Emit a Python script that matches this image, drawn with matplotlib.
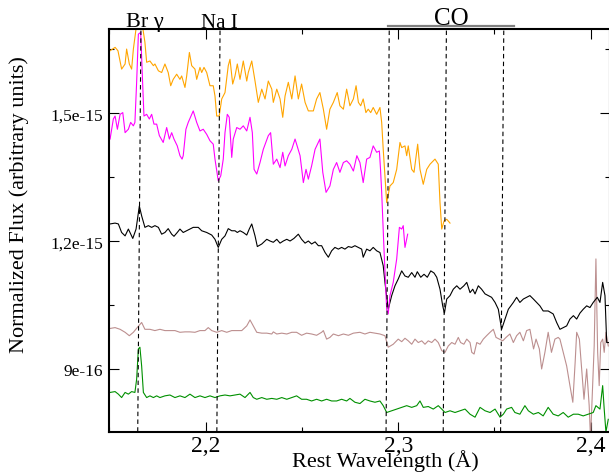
import matplotlib
matplotlib.use("Agg")
import matplotlib.pyplot as plt
import matplotlib.transforms as mtransforms
from matplotlib.ticker import FixedLocator

plt.rcParams['font.family'] = ['Liberation Serif', 'DejaVu Serif']

UNIT = 1e-16  # flux lists are in units of 1e-16

# ---- spectra (wavelength, flux/1e-16) ----
orange_wl = [2.1503, 2.1529, 2.1544, 2.1563, 2.1581, 2.1589, 2.1603, 2.1615, 2.1624, 2.1641,
             2.1653, 2.1666, 2.1684, 2.1693, 2.1710, 2.1728, 2.1736, 2.1754, 2.1771, 2.1788,
             2.1805, 2.1818, 2.1831, 2.1849, 2.1866, 2.1875, 2.1892, 2.1901, 2.1915, 2.1927,
             2.1944, 2.1953, 2.1970, 2.1979, 2.1991, 2.2005, 2.2022, 2.2039, 2.2048, 2.2057,
             2.2070, 2.2083, 2.2100, 2.2117, 2.2126, 2.2140, 2.2152, 2.2164, 2.2178, 2.2195,
             2.2213, 2.2221, 2.2239, 2.2256, 2.2273, 2.2291, 2.2308, 2.2325, 2.2343, 2.2351,
             2.2369, 2.2386, 2.2400, 2.2412, 2.2429, 2.2447, 2.2464, 2.2481, 2.2498, 2.2516,
             2.2533, 2.2559, 2.2576, 2.2593, 2.2611, 2.2628, 2.2645, 2.2663, 2.2683, 2.2697,
             2.2715, 2.2732, 2.2749, 2.2767, 2.2781, 2.2793, 2.2805, 2.2818, 2.2832, 2.2844,
             2.2857, 2.2870, 2.2888, 2.2905, 2.2914, 2.2922, 2.2940, 2.2957, 2.2974, 2.2992,
             2.3009, 2.3018, 2.3035, 2.3044, 2.3052, 2.3070, 2.3082, 2.3101, 2.3113, 2.3130,
             2.3148, 2.3165, 2.3191, 2.3208, 2.3217, 2.3226, 2.3238, 2.3252, 2.3269]
orange_fx = [16.47, 16.55, 16.47, 16.04, 16.16, 16.51, 16.16, 16.04, 16.51, 17.09,
             17.56, 17.21, 16.67, 16.20, 16.23, 16.12, 16.16, 16.00, 15.96, 16.16,
             15.96, 15.65, 15.80, 15.92, 15.80, 15.88, 15.61, 15.88, 16.43, 16.12,
             16.04, 15.80, 16.08, 15.96, 16.08, 15.96, 15.65, 15.65, 15.41, 14.94,
             14.94, 15.34, 15.49, 16.12, 16.27, 15.69, 15.88, 16.16, 15.80, 16.23,
             15.76, 15.96, 16.23, 15.76, 15.26, 15.57, 15.34, 15.76, 15.57, 15.26,
             15.57, 15.34, 14.91, 15.41, 15.73, 15.34, 15.88, 15.34, 15.69, 15.26,
             15.06, 15.06, 15.34, 15.49, 15.10, 14.63, 15.10, 15.26, 15.49, 15.18,
             15.10, 15.57, 15.18, 15.34, 15.65, 15.26, 15.18, 15.34, 15.02, 15.10,
             15.02, 15.14, 14.98, 15.14, 14.79, 14.16, 12.91, 13.30, 13.38, 13.69,
             14.32, 14.20, 14.24, 14.01, 14.24, 13.69, 13.62, 14.28, 13.69, 13.34,
             13.69, 13.81, 13.93, 13.81, 12.91, 12.29, 12.48, 12.52, 12.43]

magenta_wl = [2.1503, 2.1520, 2.1529, 2.1541, 2.1555, 2.1569, 2.1581, 2.1598, 2.1610, 2.1624,
              2.1632, 2.1641, 2.1650, 2.1662, 2.1672, 2.1679, 2.1693, 2.1707, 2.1719, 2.1731,
              2.1745, 2.1759, 2.1779, 2.1797, 2.1811, 2.1823, 2.1835, 2.1852, 2.1866, 2.1877,
              2.1883, 2.1897, 2.1909, 2.1935, 2.1953, 2.1970, 2.1987, 2.2005, 2.2022, 2.2039,
              2.2048, 2.2065, 2.2078, 2.2091, 2.2100, 2.2112, 2.2122, 2.2135, 2.2143, 2.2161,
              2.2178, 2.2195, 2.2213, 2.2230, 2.2242, 2.2251, 2.2265, 2.2282, 2.2299, 2.2325,
              2.2337, 2.2351, 2.2369, 2.2386, 2.2400, 2.2412, 2.2429, 2.2447, 2.2464, 2.2490,
              2.2507, 2.2521, 2.2533, 2.2550, 2.2568, 2.2593, 2.2608, 2.2625, 2.2645, 2.2663,
              2.2680, 2.2697, 2.2715, 2.2732, 2.2749, 2.2767, 2.2785, 2.2801, 2.2818, 2.2836,
              2.2853, 2.2870, 2.2888, 2.2902, 2.2908, 2.2914, 2.2926, 2.2940, 2.2948, 2.2957,
              2.2974, 2.2992, 2.3006, 2.3018, 2.3026, 2.3035, 2.3049]
magenta_fx = [14.40, 14.87, 14.94, 14.63, 14.98, 15.02, 14.55, 14.63, 14.79, 14.71,
              14.79, 15.73, 16.86, 16.90, 15.73, 14.94, 14.98, 14.87, 14.98, 14.75,
              14.75, 14.48, 14.32, 14.67, 14.40, 14.55, 14.40, 14.24, 14.01, 13.93,
              14.01, 14.63, 14.79, 15.06, 14.79, 14.59, 14.63, 14.51, 14.36, 14.28,
              13.93, 13.42, 13.54, 13.93, 14.55, 14.98, 14.91, 13.97, 14.40, 14.67,
              14.63, 14.71, 14.59, 14.91, 14.55, 13.69, 13.58, 13.85, 14.16, 14.48,
              14.55, 13.81, 13.93, 13.73, 14.09, 13.77, 14.01, 14.16, 14.40, 14.01,
              13.38, 13.69, 13.46, 13.77, 14.16, 14.40, 13.62, 13.15, 13.30, 13.69,
              13.85, 13.62, 13.85, 13.89, 13.81, 13.65, 14.01, 13.85, 13.38, 13.93,
              13.97, 14.24, 14.09, 14.12, 13.69, 13.15, 11.82, 10.41, 10.30, 10.73,
              11.04, 11.59, 12.33, 12.29, 12.37, 11.86, 12.17]

black_wl = [2.1503, 2.1529, 2.1546, 2.1563, 2.1581, 2.1598, 2.1621, 2.1638, 2.1655, 2.1667,
            2.1684, 2.1702, 2.1719, 2.1736, 2.1754, 2.1771, 2.1788, 2.1805, 2.1823, 2.1835,
            2.1852, 2.1866, 2.1883, 2.1909, 2.1935, 2.1961, 2.1979, 2.2005, 2.2031, 2.2048,
            2.2065, 2.2083, 2.2100, 2.2117, 2.2135, 2.2152, 2.2164, 2.2178, 2.2195, 2.2213,
            2.2226, 2.2239, 2.2256, 2.2268, 2.2291, 2.2317, 2.2334, 2.2351, 2.2369, 2.2386,
            2.2403, 2.2421, 2.2438, 2.2458, 2.2481, 2.2498, 2.2516, 2.2533, 2.2550, 2.2568,
            2.2585, 2.2602, 2.2620, 2.2637, 2.2654, 2.2671, 2.2689, 2.2706, 2.2723, 2.2741,
            2.2758, 2.2775, 2.2793, 2.2810, 2.2818, 2.2836, 2.2853, 2.2870, 2.2888, 2.2905,
            2.2922, 2.2931, 2.2948, 2.2966, 2.2983, 2.3000, 2.3018, 2.3035, 2.3052, 2.3070,
            2.3087, 2.3099, 2.3117, 2.3134, 2.3151, 2.3169, 2.3186, 2.3200, 2.3217, 2.3231,
            2.3240, 2.3252, 2.3269, 2.3286, 2.3304, 2.3321, 2.3341, 2.3356, 2.3373, 2.3387,
            2.3399, 2.3416, 2.3433, 2.3451, 2.3468, 2.3485, 2.3503, 2.3520, 2.3537, 2.3555,
            2.3572, 2.3598, 2.3615, 2.3632, 2.3650, 2.3667, 2.3684, 2.3702, 2.3719, 2.3736,
            2.3753, 2.3779, 2.3805, 2.3823, 2.3840, 2.3857, 2.3875, 2.3892, 2.3910, 2.3927,
            2.3944, 2.3961, 2.3979, 2.3996, 2.4013, 2.4034, 2.4048, 2.4062, 2.4074, 2.4083,
            2.4098]
black_fx = [12.41, 12.43, 12.41, 12.21, 12.13, 12.29, 12.07, 12.29, 12.83, 12.60,
            12.33, 12.37, 12.33, 12.37, 12.33, 12.17, 12.21, 12.30, 12.17, 12.12,
            12.21, 12.29, 12.21, 12.27, 12.33, 12.33, 12.25, 12.21, 12.15, 12.05,
            11.86, 12.05, 12.13, 12.30, 12.25, 12.25, 12.21, 12.25, 12.21, 12.15,
            12.29, 12.41, 12.13, 11.88, 11.94, 12.05, 12.01, 11.98, 12.05, 11.96,
            12.01, 12.05, 12.01, 12.07, 12.17, 12.05, 11.96, 12.01, 11.94, 11.99,
            11.90, 11.90, 11.74, 11.63, 11.78, 11.86, 11.82, 11.86, 11.82, 11.88,
            11.86, 11.90, 11.86, 11.82, 11.63, 11.82, 11.78, 11.86, 11.78, 11.74,
            11.43, 11.04, 10.41, 10.73, 10.96, 11.12, 11.31, 11.19, 11.16, 11.27,
            11.16, 11.29, 11.16, 11.23, 11.16, 11.31, 11.26, 11.16, 10.88, 10.49,
            10.32, 10.65, 10.73, 10.88, 10.96, 10.88, 10.96, 11.04, 10.80, 10.88,
            10.77, 10.96, 10.88, 10.77, 10.73, 10.69, 10.57, 10.41, 9.94, 10.18,
            10.41, 10.57, 10.69, 10.57, 10.65, 10.69, 10.73, 10.65, 10.57, 10.49,
            10.37, 10.37, 10.30, 10.10, 9.94, 9.98, 10.02, 10.18, 10.26, 10.18,
            10.32, 10.41, 10.49, 10.45, 10.57, 10.69, 10.57, 11.04, 10.73, 9.63,
            9.63]

rosy_wl = [2.1503, 2.1529, 2.1555, 2.1581, 2.1603, 2.1624, 2.1644, 2.1667, 2.1684, 2.1710,
           2.1736, 2.1762, 2.1788, 2.1814, 2.1840, 2.1866, 2.1892, 2.1918, 2.1944, 2.1970,
           2.1996, 2.2013, 2.2031, 2.2057, 2.2083, 2.2109, 2.2135, 2.2161, 2.2187, 2.2213,
           2.2230, 2.2247, 2.2265, 2.2291, 2.2317, 2.2343, 2.2351, 2.2369, 2.2395, 2.2421,
           2.2447, 2.2472, 2.2498, 2.2524, 2.2550, 2.2576, 2.2602, 2.2611, 2.2628, 2.2645,
           2.2663, 2.2689, 2.2715, 2.2741, 2.2767, 2.2801, 2.2827, 2.2853, 2.2879, 2.2905,
           2.2931, 2.2948, 2.2974, 2.3000, 2.3018, 2.3035, 2.3052, 2.3070, 2.3087, 2.3104,
           2.3122, 2.3139, 2.3156, 2.3174, 2.3191, 2.3208, 2.3226, 2.3243, 2.3260, 2.3278,
           2.3295, 2.3312, 2.3324, 2.3341, 2.3356, 2.3373, 2.3382, 2.3394, 2.3408, 2.3425,
           2.3442, 2.3459, 2.3477, 2.3494, 2.3508, 2.3525, 2.3543, 2.3560, 2.3580, 2.3598,
           2.3615, 2.3632, 2.3650, 2.3667, 2.3684, 2.3703, 2.3716, 2.3733, 2.3745, 2.3762,
           2.3779, 2.3796, 2.3814, 2.3831, 2.3840, 2.3857, 2.3875, 2.3892, 2.3907, 2.3919,
           2.3927, 2.3941, 2.3954, 2.3965, 2.3979, 2.3992, 2.3999, 2.4010, 2.4018, 2.4027,
           2.4036, 2.4044, 2.4052, 2.4062, 2.4070, 2.4079, 2.4091]
rosy_fx = [9.96, 9.98, 9.94, 9.87, 9.79, 9.87, 9.98, 10.10, 9.94, 9.94,
           9.91, 9.94, 9.91, 9.91, 9.91, 9.87, 9.88, 9.88, 9.87, 9.91,
           9.91, 9.98, 9.91, 9.87, 9.91, 9.87, 9.91, 9.91, 9.91, 10.02,
           10.16, 10.02, 9.87, 9.85, 9.85, 9.83, 9.88, 9.83, 9.85, 9.83,
           9.87, 9.87, 9.80, 9.85, 9.83, 9.80, 9.87, 9.91, 9.71, 9.75,
           9.83, 9.79, 9.83, 9.80, 9.85, 9.87, 9.83, 9.87, 9.85, 9.83,
           9.79, 9.52, 9.59, 9.71, 9.65, 9.73, 9.67, 9.59, 9.71, 9.63,
           9.67, 9.59, 9.67, 9.63, 9.71, 9.63, 9.44, 9.40, 9.55, 9.63,
           9.59, 9.75, 9.63, 9.59, 9.71, 9.63, 9.40, 9.36, 9.63, 9.59,
           9.71, 9.79, 9.87, 9.94, 9.75, 9.71, 9.67, 9.75, 9.83, 9.63,
           9.79, 9.87, 9.67, 9.91, 9.94, 9.48, 9.71, 9.48, 9.01, 9.40,
           9.87, 9.40, 9.71, 9.75, 9.71, 9.40, 9.08, 8.62, 8.23, 9.16,
           9.87, 9.71, 8.93, 8.30, 9.01, 8.15, 7.37, 8.62, 9.55, 11.59,
           9.40, 8.62, 9.63, 9.71, 9.40, 9.87, 9.55]

green_wl = [2.1503, 2.1529, 2.1546, 2.1563, 2.1581, 2.1598, 2.1615, 2.1632, 2.1641, 2.1650,
            2.1658, 2.1667, 2.1676, 2.1693, 2.1710, 2.1728, 2.1745, 2.1762, 2.1788, 2.1814,
            2.1840, 2.1866, 2.1892, 2.1918, 2.1944, 2.1970, 2.1996, 2.2022, 2.2048, 2.2074,
            2.2100, 2.2126, 2.2152, 2.2178, 2.2204, 2.2230, 2.2247, 2.2265, 2.2291, 2.2317,
            2.2343, 2.2369, 2.2395, 2.2421, 2.2447, 2.2472, 2.2498, 2.2524, 2.2550, 2.2576,
            2.2602, 2.2628, 2.2654, 2.2680, 2.2706, 2.2732, 2.2749, 2.2775, 2.2801, 2.2827,
            2.2853, 2.2879, 2.2905, 2.2922, 2.2940, 2.2966, 2.2992, 2.3018, 2.3044, 2.3070,
            2.3096, 2.3113, 2.3130, 2.3156, 2.3182, 2.3208, 2.3226, 2.3243, 2.3269, 2.3295,
            2.3321, 2.3347, 2.3373, 2.3399, 2.3425, 2.3451, 2.3477, 2.3503, 2.3529, 2.3546,
            2.3563, 2.3589, 2.3606, 2.3632, 2.3658, 2.3676, 2.3702, 2.3728, 2.3753, 2.3779,
            2.3805, 2.3831, 2.3857, 2.3883, 2.3910, 2.3935, 2.3961, 2.3987, 2.4013, 2.4027,
            2.4048, 2.4062, 2.4070, 2.4079, 2.4091]
green_fx = [8.46, 8.48, 8.42, 8.34, 8.46, 8.42, 8.48, 8.46, 8.77, 9.48,
            9.52, 9.08, 8.46, 8.34, 8.38, 8.34, 8.38, 8.34, 8.38, 8.40,
            8.34, 8.38, 8.34, 8.42, 8.34, 8.38, 8.34, 8.38, 8.34, 8.38,
            8.40, 8.38, 8.40, 8.42, 8.34, 8.46, 8.34, 8.30, 8.34, 8.30,
            8.32, 8.30, 8.34, 8.30, 8.34, 8.38, 8.30, 8.30, 8.26, 8.30,
            8.26, 8.30, 8.26, 8.26, 8.30, 8.26, 8.32, 8.23, 8.20, 8.30,
            8.26, 8.23, 8.26, 8.15, 7.99, 8.03, 8.07, 8.11, 8.15, 8.11,
            8.15, 8.26, 8.11, 8.13, 8.07, 8.15, 8.07, 7.99, 8.03, 7.99,
            8.03, 8.07, 7.95, 7.88, 8.11, 8.03, 7.99, 8.07, 7.88, 7.95,
            8.07, 8.11, 7.99, 7.95, 8.15, 8.03, 7.95, 7.99, 7.91, 8.11,
            7.95, 7.91, 7.99, 7.88, 7.95, 7.95, 7.91, 7.95, 7.99, 8.15,
            8.07, 8.62, 8.07, 7.53, 7.83]

# spectral features (measured line positions, microns)
feature_waves = [2.1655, 2.2066, 2.2945, 2.3242, 2.3540]

x_major = [2.2, 2.3, 2.4]
x_major_labels = ['2,2', '2,3', '2,4']
x_minor = [2.15, 2.25, 2.35]
y_major = [9e-16, 1.2e-15, 1.5e-15]
y_major_labels = ['9e-16', '1,2e-15', '1,5e-15']
y_minor = [1.05e-15, 1.35e-15, 1.65e-15]

fig = plt.figure(figsize=(6.09, 4.77), dpi=100)
ax = fig.add_axes([0.1798, 0.0929, 0.8218, 0.8442])

series = [
    (rosy_wl, rosy_fx, '#bc8f8f'),
    (green_wl, green_fx, '#009000'),
    (black_wl, black_fx, 'black'),
    (orange_wl, orange_fx, '#ffa500'),
    (magenta_wl, magenta_fx, '#ff00ff'),
]
for wl, fx, col in series:
    ax.plot(wl, [f * UNIT for f in fx], color=col, lw=0.8)

ax.set_xlim(2.15, 2.41)
ax.set_ylim(7.54e-16, 1.698e-15)

# dashed feature markers (slightly tilted as in the original)
tilt = 0.00083
for w in feature_waves:
    ax.plot([w - tilt, w + tilt], [0, 1], transform=ax.get_xaxis_transform(),
            color='black', lw=0.8, ls=(0, (4, 3)), clip_on=False)

blend = mtransforms.blended_transform_factory(ax.transData, ax.transAxes)
ax.text(2.1684, 1.0075, 'Br γ', transform=blend, ha='center', va='baseline', fontsize=16)
ax.text(2.2069, 1.005, 'Na I', transform=blend, ha='center', va='baseline', fontsize=15)
ax.text(2.3274, 1.0124, 'CO', transform=blend, ha='center', va='baseline', fontsize=18)
ax.plot([2.2945, 2.3603], [1.0067, 1.0067], transform=blend, color='#808080',
        lw=1.6, clip_on=False)

ax.xaxis.set_major_locator(FixedLocator(x_major))
ax.set_xticklabels(x_major_labels)
ax.xaxis.set_minor_locator(FixedLocator(x_minor))
ax.yaxis.set_major_locator(FixedLocator(y_major))
ax.set_yticklabels(y_major_labels)
ax.yaxis.set_minor_locator(FixedLocator(y_minor))

ax.tick_params(which='both', direction='in', top=True, right=True, width=0.8)
ax.tick_params(which='major', length=7.2)
ax.tick_params(which='minor', length=3.8)
ax.tick_params(axis='x', which='major', labelsize=17, pad=2.5)
ax.tick_params(axis='y', which='major', labelsize=12.5, pad=4.5)
for sp in ax.spines.values():
    sp.set_linewidth(1.5)

ax.set_xlabel('Rest Wavelength (Å)', fontsize=16)
ax.xaxis.set_label_coords(0.5504, -0.0864)
ax.xaxis.label.set_verticalalignment('baseline')
ax.set_ylabel('Normalized Flux (arbitrary units)', fontsize=16)
ax.yaxis.set_label_coords(-0.1808, 0.5667)
ax.yaxis.label.set_verticalalignment('center')

fig.savefig('out.png', dpi=100)
